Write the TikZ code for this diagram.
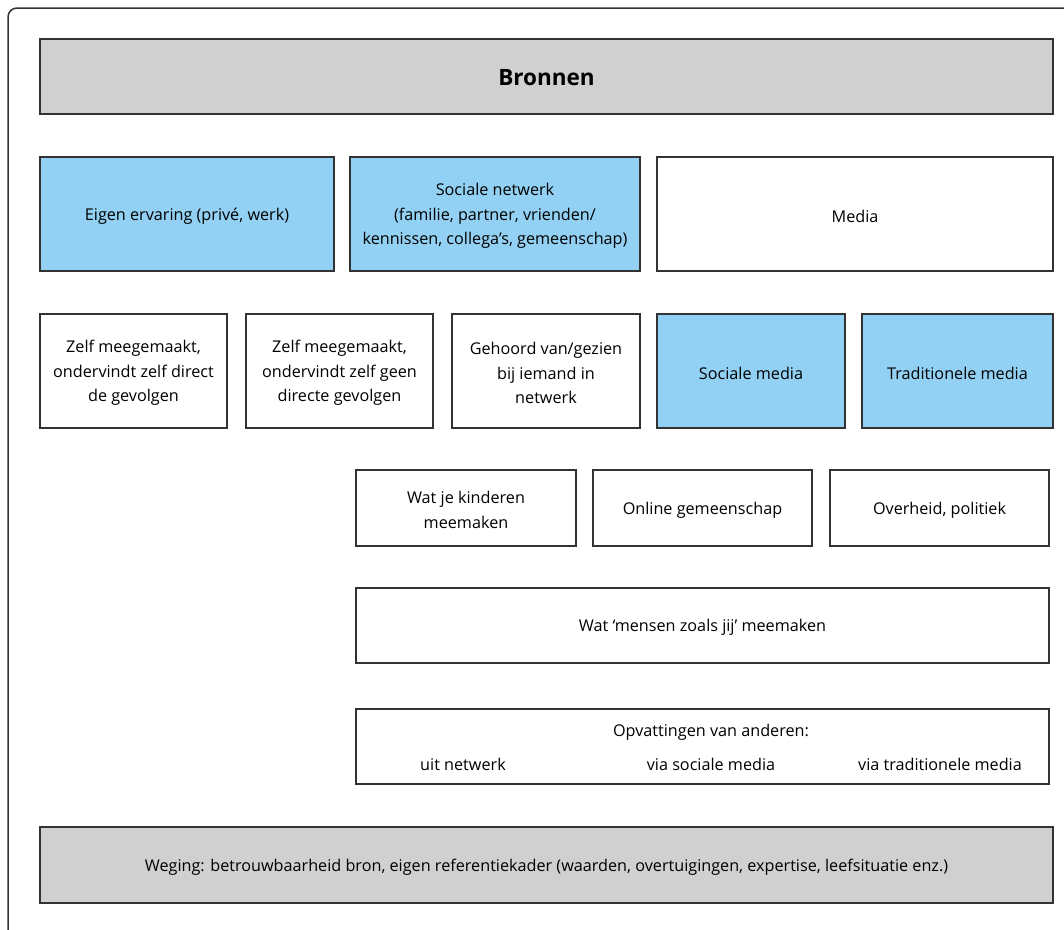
\documentclass[tikz,border=0pt]{standalone}
\usepackage{fontspec}
\setmainfont{Open Sans}
\definecolor{boxblue}{HTML}{92D1F3}
\definecolor{boxgray}{HTML}{D0D0D0}
\definecolor{edge}{HTML}{333333}
\begin{document}
\begin{tikzpicture}[x=1pt,y=-1pt,
  cell/.style={draw=edge,line width=1.3pt,fill=white,inner sep=0pt},
  bluecell/.style={cell,fill=boxblue},
  graycell/.style={cell,fill=boxgray},
  txt/.style={inner sep=0pt,align=center,font=\fontsize{16.2}{24.3}\selectfont}]
\useasboundingbox (0,0) rectangle (1064,929);
\begin{scope}
\clip (0,0) rectangle (1064,929);
\draw[edge,line width=1.5pt,rounded corners=9pt] (8,8) rectangle (1100,960);
\end{scope}
% boxes
\node[graycell,minimum width=1013pt,minimum height=75pt] (bronnen) at (546.5,76.5) {};
\node[bluecell,minimum width=294pt,minimum height=114pt] (eigen) at (187,214) {};
\node[bluecell,minimum width=290pt,minimum height=114pt] (sociaal) at (495,214) {};
\node[cell,minimum width=396pt,minimum height=114pt] (media) at (855,214) {};
\node[cell,minimum width=187pt,minimum height=114pt] (z1) at (133.5,371) {};
\node[cell,minimum width=187pt,minimum height=114pt] (z2) at (339.5,371) {};
\node[cell,minimum width=188pt,minimum height=114pt] (geh) at (546,371) {};
\node[bluecell,minimum width=188pt,minimum height=114pt] (socm) at (751,371) {};
\node[bluecell,minimum width=191pt,minimum height=114pt] (trad) at (957.5,371) {};
\node[cell,minimum width=220pt,minimum height=76pt] (kind) at (466,508) {};
\node[cell,minimum width=219pt,minimum height=76pt] (online) at (702.5,508) {};
\node[cell,minimum width=219pt,minimum height=76pt] (overheid) at (939.5,508) {};
\node[cell,minimum width=693pt,minimum height=75pt] (mensen) at (702.5,625.5) {};
\node[cell,minimum width=693pt,minimum height=75pt] (opv) at (702.5,746.5) {};
\node[graycell,minimum width=1013pt,minimum height=76pt] (weging) at (546.5,865) {};
% texts
\node[txt,font=\fontsize{22.5}{24}\selectfont\bfseries] (bronnent) at ([yshift=-1pt]bronnen.center) {Bronnen};
\node[txt] (eigent) at ([yshift=-2pt]eigen.center) {Eigen ervaring (privé, werk)};
\node[txt] (sociaalt) at ([yshift=-2pt]sociaal.center) {Sociale netwerk\\(familie, partner, vrienden/\\kennissen, collega’s, gemeenschap)};
\node[txt] (mediat) at ([yshift=-2pt]media.center) {Media};
\node[txt] (z1t) at ([yshift=-2pt]z1.center) {Zelf meegemaakt,\\ondervindt zelf direct\\de gevolgen};
\node[txt] (z2t) at ([yshift=-2pt]z2.center) {Zelf meegemaakt,\\ondervindt zelf geen\\directe gevolgen};
\node[txt] (geht) at ([yshift=-2pt]geh.center) {Gehoord van/gezien\\bij iemand in\\netwerk};
\node[txt] (socmt) at ([yshift=-2pt]socm.center) {Sociale media};
\node[txt] (tradt) at ([yshift=-2pt]trad.center) {Traditionele media};
\node[txt] (kindt) at ([yshift=-2pt]kind.center) {Wat je kinderen\\meemaken};
\node[txt] (onlinet) at ([yshift=-2pt]online.center) {Online gemeenschap};
\node[txt] (overheidt) at ([yshift=-2pt]overheid.center) {Overheid, politiek};
\node[txt] (mensent) at ([yshift=-2pt]mensen.center) {Wat ‘mensen zoals jij’ meemaken};
\node[txt] (opvt) at (711,732) {Opvattingen van anderen:};
\node[txt] (uit) at (463,764) {uit netwerk};
\node[txt] (viasoc) at (711,764) {via sociale media};
\node[txt] (viatrad) at (940,764) {via traditionele media};
\node[txt] (wegingt) at ([yshift=-2pt]weging.center) {Weging: betrouwbaarheid bron, eigen referentiekader (waarden, overtuigingen, expertise, leefsituatie enz.)};
\end{tikzpicture}
\end{document}
